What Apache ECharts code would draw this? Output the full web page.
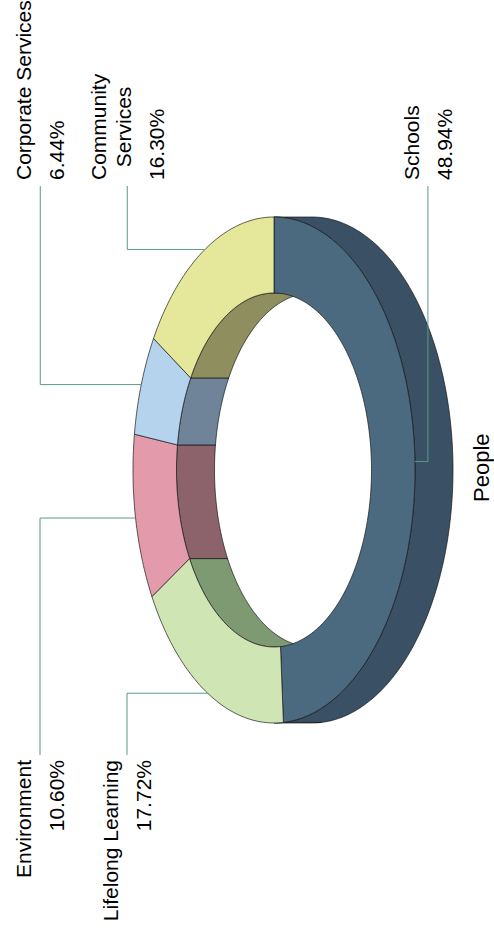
<!DOCTYPE html>
<html><head><meta charset="utf-8">
<script src="https://cdn.jsdelivr.net/npm/echarts@6/dist/echarts.min.js"></script>
<style>
html,body{margin:0;padding:0;width:494px;height:928px;overflow:hidden;background:#fff;}
#chart{position:absolute;left:0;top:0;width:928px;height:494px;transform-origin:0 0;transform:translate(0,928px) rotate(-90deg);}
</style></head><body><div id="chart"></div>
<script>
// ---- data ----
const categories = ['Schools', 'Lifelong Learning', 'Environment', 'Corporate Services', 'Community Services'];
const values = [48.94, 17.72, 10.60, 6.44, 16.30];
const chartTitle = 'People';

// ---- styles ----
const topColors = ['#4b6a80', '#cfe5b4', '#e39bac', '#b5d3ec', '#e5e89a'];
const innerColors = ['#3b5165', '#7d9a72', '#8c636b', '#6f8499', '#8f8e5e'];
const sideColors = ['#3a5064', '#a3b88c', '#b07a87', '#8aa2b8', '#b1b477'];
const leaderColor = '#5b9a88';
const edgeColor = 'rgba(20,20,20,0.85)';
const FONT = '"Liberation Sans", Arial, sans-serif';
const FS = 21;

// ---- geometry (chart frame 928 x 494, rotated on the page) ----
const W = 928, H = 494;
const geo = { cx: 458, cy: 274, rx: 253, ry: 141, rxi: 177, ryi: 97.5, depth: 38 };
const labelCols = { left: geo.cx - 290, right: geo.cx + 290 };
const labelWrap = 185;

const total = values.reduce((a, b) => a + b, 0);
const starts = [], ends = [];
{ let acc = 0; values.forEach(v => { starts.push(acc / total * 360); acc += v; ends.push(acc / total * 360); }); }

function pt(rx, ry, a, dy) {
  const t = a * Math.PI / 180;
  return [geo.cx + rx * Math.cos(t), geo.cy + ry * Math.sin(t) + (dy || 0)];
}
function arc(rx, ry, s, e, dy) {
  const n = Math.max(2, Math.ceil(Math.abs(e - s) / 1));
  const out = [];
  for (let i = 0; i <= n; i++) out.push(pt(rx, ry, s + (e - s) * i / n, dy));
  return out;
}

// text measuring
const mctx = document.createElement('canvas').getContext('2d');
mctx.font = FS + 'px ' + FONT;
function tw(s) { return mctx.measureText(s).width; }
function wrap(s, maxW) {
  const words = s.split(' ');
  const lines = [];
  let cur = '';
  words.forEach(w => {
    const t = cur ? cur + ' ' + w : w;
    if (cur && tw(t) > maxW) { lines.push(cur); cur = w; } else cur = t;
  });
  if (cur) lines.push(cur);
  return lines;
}

// label layout
const LH = 25, VGAP = 33, LEAD_UP = 101, LEAD_DOWN = 13, MIN_GAP = 87, TOP_LIMIT = 40;
const labels = values.map((v, i) => {
  const mid = (starts[i] + ends[i]) / 2;
  const a = pt(geo.rx, geo.ry, mid);
  const side = a[0] < geo.cx ? 'left' : 'right';
  return { i, anchor: a, side,
           lineY: a[1] < geo.cy ? Math.max(TOP_LIMIT, a[1] - LEAD_UP) : a[1] + LEAD_DOWN,
           lines: wrap(categories[i], labelWrap), value: v.toFixed(2) + '%' };
});
['left', 'right'].forEach(sd => {
  const col = labels.filter(l => l.side === sd).sort((p, q) => p.lineY - q.lineY);
  for (let k = 1; k < col.length; k++) col[k].lineY = Math.max(col[k].lineY, col[k - 1].lineY + MIN_GAP);
});

function renderItem(params, api) {
  const i = params.dataIndex;
  const a0 = starts[i], a1 = ends[i];
  const ch = [];
  // inner wall (back half visible through the hole)
  let s = Math.max(a0, 180), e = Math.min(a1, 360);
  if (e > s) ch.push({ type: 'polygon', z2: 10,
    shape: { points: arc(geo.rxi, geo.ryi, s, e, 0).concat(arc(geo.rxi, geo.ryi, e, s, geo.depth)) },
    style: { fill: innerColors[i], stroke: edgeColor, lineWidth: 0.8 } });
  // outer side wall (front half)
  s = Math.max(a0, 0); e = Math.min(a1, 180);
  if (e > s) ch.push({ type: 'polygon', z2: 20,
    shape: { points: arc(geo.rx, geo.ry, s, e, 0).concat(arc(geo.rx, geo.ry, e, s, geo.depth)) },
    style: { fill: sideColors[i], stroke: edgeColor, lineWidth: 0.8 } });
  // top face
  ch.push({ type: 'polygon', z2: 30,
    shape: { points: arc(geo.rx, geo.ry, a0, a1, 0).concat(arc(geo.rxi, geo.ryi, a1, a0, 0)) },
    style: { fill: topColors[i], stroke: edgeColor, lineWidth: 0.8 } });
  // label
  const L = labels[i];
  const endX = L.side === 'right' ? labelCols.right - 6 : labelCols.left + 5;
  ch.push({ type: 'polyline', z2: 40,
    shape: { points: [L.anchor, [L.anchor[0], L.lineY], [endX, L.lineY]] },
    style: { stroke: leaderColor, lineWidth: 1, fill: null } });
  const n = L.lines.length;
  const span = (n - 1) * LH + VGAP;
  const firstY = L.lineY - span / 2;
  const maxW = Math.max.apply(null, L.lines.map(tw));
  L.lines.forEach((txt, k) => {
    ch.push({ type: 'text', z2: 50, style: {
      text: txt, x: L.side === 'right' ? labelCols.right + maxW / 2 : labelCols.left,
      y: firstY + k * LH, align: L.side === 'right' ? 'center' : 'right', verticalAlign: 'middle',
      fill: '#000', fontSize: FS, fontFamily: FONT } });
  });
  ch.push({ type: 'text', z2: 50, style: {
    text: L.value, x: L.side === 'right' ? labelCols.right : labelCols.left,
    y: firstY + (n - 1) * LH + VGAP, align: L.side === 'right' ? 'left' : 'right', verticalAlign: 'middle',
    fill: '#000', fontSize: FS, fontFamily: FONT } });
  return { type: 'group', children: ch };
}

const chart = echarts.init(document.getElementById('chart'), null, { renderer: 'svg', width: W, height: H });
chart.setOption({
  backgroundColor: '#fff',
  animation: false,
  title: { text: chartTitle, left: 426, top: 470, padding: 0,
    textStyle: { fontSize: 22, fontWeight: 'normal', fontFamily: FONT, color: '#000' } },
  series: [{ type: 'custom', coordinateSystem: 'none', silent: true,
    data: values.map((v, i) => ({ name: categories[i], value: [v] })), renderItem }]
});
</script></body></html>
